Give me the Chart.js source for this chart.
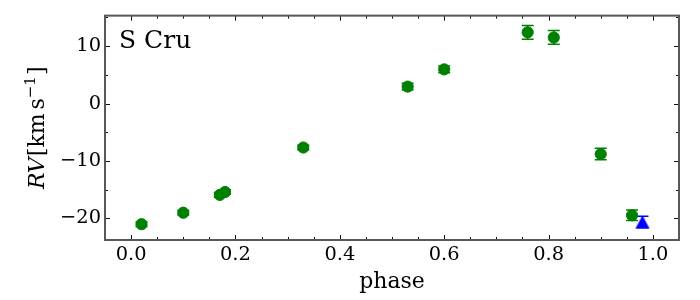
<!DOCTYPE html>
<html>
<head>
<meta charset="utf-8">
<script src="https://cdn.jsdelivr.net/npm/chart.js@4.4.1/dist/chart.umd.min.js"></script>
<style>
  html, body { margin: 0; padding: 0; background: #fff; }
  #wrap { width: 700px; height: 300px; }
</style>
</head>
<body>
<div id="wrap"><canvas id="rv-chart" width="700" height="300"></canvas></div>
<script>
// S Cru radial velocity curve, phase folded

// green points (circles)
const phase = [0.02, 0.10, 0.17, 0.18, 0.33, 0.53, 0.60, 0.76, 0.81, 0.90, 0.96];
const rv = [-21.0, -19.0, -15.9, -15.4, -7.65, 2.95, 5.95, 12.4, 11.5, -8.8, -19.45];
const rvErr = [0.4, 0.4, 0.4, 0.4, 0.4, 0.6, 0.6, 1.2, 1.2, 1.0, 0.9];

// blue point (triangle)
const triPhase = [0.98];
const triRv = [-20.6];
const triErr = [1.0];

const xTicks = [0.0, 0.2, 0.4, 0.6, 0.8, 1.0];
const yTicks = [-20, -10, 0, 10];
const xMinorStep = 0.05;
const yMinorStep = 5;
const starName = "S Cru";

const SERIF = '"DejaVu Serif", "Liberation Serif", serif';
const GREEN = "#008000";
const BLUE = "#0000ff";

// matplotlib-like "^" marker, centred on its bounding box
function triangleMarker(color) {
  const c = document.createElement("canvas");
  c.width = 16;
  c.height = 16;
  const g = c.getContext("2d");
  g.fillStyle = color;
  g.beginPath();
  g.moveTo(8, 1.5);
  g.lineTo(15, 14.5);
  g.lineTo(1, 14.5);
  g.closePath();
  g.fill();
  return c;
}

function minorValues(scale, step, majors) {
  const out = [];
  for (let k = Math.ceil(scale.min / step); k <= Math.floor(scale.max / step); k++) {
    const v = +(k * step).toFixed(6);
    if (!majors.some(m => Math.abs(m - v) < 1e-6)) out.push(v);
  }
  return out;
}

const errorBars = {
  id: "errorBars",
  beforeDatasetsDraw(chart) {
    const { ctx, scales: { x, y } } = chart;
    ctx.save();
    ctx.beginPath();
    ctx.rect(chart.chartArea.left, chart.chartArea.top, chart.chartArea.width, chart.chartArea.height);
    ctx.clip();
    chart.data.datasets.forEach(ds => {
      ctx.strokeStyle = ds.borderColor;
      ctx.lineWidth = 1.5;
      ds.data.forEach((p, i) => {
        const e = ds.errors[i];
        const px = x.getPixelForValue(p.x);
        const y0 = y.getPixelForValue(p.y - e);
        const y1 = y.getPixelForValue(p.y + e);
        ctx.beginPath();
        ctx.moveTo(px, y0);
        ctx.lineTo(px, y1);
        ctx.moveTo(px - 6, y0);
        ctx.lineTo(px + 6, y0);
        ctx.moveTo(px - 6, y1);
        ctx.lineTo(px + 6, y1);
        ctx.stroke();
      });
    });
    ctx.restore();
  }
};

function drawYTitle(ctx, cx, cy) {
  const size = 22;
  const reg = `${size}px ${SERIF}`;
  const parts = [
    { t: "RV", font: `italic ${size}px ${SERIF}`, gap: 0, dy: 0 },
    { t: "[km", font: reg, gap: 0.06 * size, dy: 0 },
    { t: "s", font: reg, gap: 0.17 * size, dy: 0 },
    { t: "\u22121", font: `${Math.round(size * 0.7)}px ${SERIF}`, gap: 0, dy: -0.42 * size },
    { t: "]", font: reg, gap: 0.05 * size, dy: 0 }
  ];
  let total = 0;
  parts.forEach(p => {
    ctx.font = p.font;
    p.w = ctx.measureText(p.t).width;
    total += p.gap + p.w;
  });
  ctx.save();
  ctx.translate(cx, cy);
  ctx.rotate(-Math.PI / 2);
  ctx.fillStyle = "#000";
  ctx.textBaseline = "alphabetic";
  ctx.textAlign = "left";
  let pos = -total / 2;
  parts.forEach(p => {
    pos += p.gap;
    ctx.font = p.font;
    ctx.fillText(p.t, pos, p.dy);
    pos += p.w;
  });
  ctx.restore();
}

const frame = {
  id: "frame",
  afterDraw(chart) {
    const { ctx, chartArea: a, scales: { x, y } } = chart;
    ctx.save();

    // inward ticks on all four sides
    ctx.strokeStyle = "#111";
    ctx.lineWidth = 1;
    const xMarks = (vals, len) => vals.forEach(v => {
      const px = Math.round(x.getPixelForValue(v)) + 0.5;
      ctx.beginPath();
      ctx.moveTo(px, a.bottom);
      ctx.lineTo(px, a.bottom - len);
      ctx.moveTo(px, a.top);
      ctx.lineTo(px, a.top + len);
      ctx.stroke();
    });
    const yMarks = (vals, len) => vals.forEach(v => {
      const py = Math.round(y.getPixelForValue(v)) + 0.5;
      ctx.beginPath();
      ctx.moveTo(a.left, py);
      ctx.lineTo(a.left + len, py);
      ctx.moveTo(a.right, py);
      ctx.lineTo(a.right - len, py);
      ctx.stroke();
    });
    xMarks(xTicks, 5);
    xMarks(minorValues(x, xMinorStep, xTicks), 3);
    yMarks(yTicks, 5);
    yMarks(minorValues(y, yMinorStep, yTicks), 3);

    // spines
    ctx.strokeStyle = "#585858";
    ctx.lineWidth = 2;
    ctx.strokeRect(a.left, a.top, a.width, a.height);

    // star name
    ctx.fillStyle = "#000";
    ctx.font = `25px ${SERIF}`;
    ctx.textAlign = "left";
    ctx.textBaseline = "alphabetic";
    ctx.fillText(starName, a.left + 14, a.top + 32.5);

    ctx.restore();

    drawYTitle(ctx, 44, (a.top + a.bottom) / 2);
  }
};

const minusFmt = v => (v < 0 ? "\u2212" + Math.abs(v) : String(v));

new Chart(document.getElementById("rv-chart"), {
  type: "scatter",
  data: {
    datasets: [
      {
        label: "RV",
        data: phase.map((p, i) => ({ x: p, y: rv[i] })),
        errors: rvErr,
        pointStyle: "circle",
        pointRadius: 5.6,
        borderWidth: 1,
        backgroundColor: GREEN,
        borderColor: GREEN
      },
      {
        label: "RV (other)",
        data: triPhase.map((p, i) => ({ x: p, y: triRv[i] })),
        errors: triErr,
        pointStyle: triangleMarker(BLUE),
        pointRadius: 8,
        backgroundColor: BLUE,
        borderColor: BLUE
      }
    ]
  },
  options: {
    responsive: false,
    animation: false,
    events: [],
    layout: { padding: { top: 15, right: 21, left: 0, bottom: 0 } },
    plugins: {
      legend: { display: false },
      tooltip: { enabled: false }
    },
    scales: {
      x: {
        type: "linear",
        min: -0.05,
        max: 1.05,
        afterBuildTicks: s => { s.ticks = xTicks.map(v => ({ value: v })); },
        afterFit: s => { s.height = 60; },
        grid: { display: false, drawTicks: false },
        border: { display: false },
        ticks: {
          color: "#000",
          padding: 3,
          maxRotation: 0,
          font: { family: SERIF, size: 19.4 },
          callback: v => v.toFixed(1)
        },
        title: {
          display: true,
          text: "phase",
          color: "#000",
          font: { family: SERIF, size: 22 },
          padding: { top: 0, bottom: 5 }
        }
      },
      y: {
        type: "linear",
        min: -23.75,
        max: 15.3,
        afterBuildTicks: s => { s.ticks = yTicks.map(v => ({ value: v })); },
        afterFit: s => { s.width = 105; },
        grid: { display: false, drawTicks: false },
        border: { display: false },
        ticks: {
          color: "#000",
          padding: 4,
          font: { family: SERIF, size: 19.4 },
          callback: minusFmt
        }
      }
    }
  },
  plugins: [errorBars, frame]
});
</script>
</body>
</html>
